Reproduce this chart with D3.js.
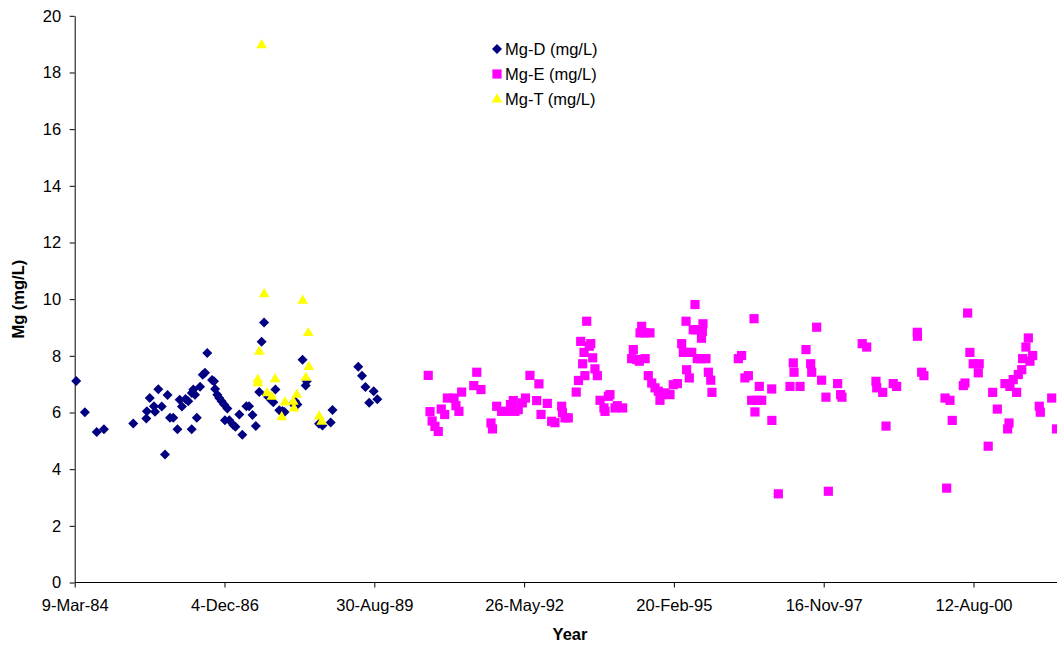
<!DOCTYPE html>
<html>
<head>
<meta charset="utf-8">
<script src="https://cdn.jsdelivr.net/npm/d3@7"></script>
<style>
  body { margin: 0; background: #fff; }
  svg { display: block; font-family: "Liberation Sans", Arial, sans-serif; }
</style>
</head>
<body>
<svg id="chart" width="1057" height="646"></svg>
<script>
// ---------- DATA ----------
const xTickLabels = ["9-Mar-84", "4-Dec-86", "30-Aug-89", "26-May-92", "20-Feb-95", "16-Nov-97", "12-Aug-00"];
const yTickValues = [0, 2, 4, 6, 8, 10, 12, 14, 16, 18, 20];
const seriesNames = ["Mg-D (mg/L)", "Mg-E (mg/L)", "Mg-T (mg/L)"];
const xTitle = "Year";
const yTitle = "Mg (mg/L)";

const mgDDates = [
  "1984-03-19","1984-05-16","1984-08-03","1984-09-20","1985-04-04","1985-06-30","1985-07-04","1985-07-23",
  "1985-08-20","1985-08-27","1985-09-18","1985-10-11","1985-11-02","1985-11-19","1985-12-05","1985-12-27",
  "1986-01-24","1986-02-08","1986-02-23","1986-03-19","1986-04-06","1986-04-29","1986-04-30","1986-05-10",
  "1986-05-21","1986-06-02","1986-06-24","1986-07-12","1986-07-27","1986-08-11","1986-09-12","1986-09-25",
  "1986-10-02","1986-10-17","1986-10-30","1986-11-15","1986-12-01","1986-12-07","1986-12-23","1987-01-05",
  "1987-02-01","1987-02-15","1987-03-13","1987-04-02","1987-04-29","1987-05-17","1987-06-09","1987-07-01",
  "1987-07-24","1987-08-09","1987-08-25","1987-09-12","1987-09-22","1987-10-10","1987-10-26","1987-11-09",
  "1987-12-05","1987-12-26","1988-01-09","1988-03-03","1988-03-19","1988-04-04","1988-05-08","1988-05-29",
  "1988-06-05","1988-08-26","1988-09-18","1988-11-12","1988-11-24","1989-05-15","1989-06-09","1989-07-02",
  "1989-07-27","1989-08-26","1989-09-19"
];
const mgDValues = [
  7.11, 6.01, 5.31, 5.41, 5.61, 5.79, 6.04, 6.51,
  6.22, 6.03, 6.82, 6.21, 4.52, 6.62, 5.81, 5.81,
  5.41, 6.45, 6.21, 6.48, 6.40, 5.41, 6.69, 6.81,
  6.63, 5.81, 6.91, 7.33, 7.40, 8.10, 7.15, 7.10,
  6.83, 6.63, 6.51, 6.40, 6.28, 5.73, 6.14, 5.73,
  5.56, 5.50, 5.93, 5.21, 6.22, 6.22, 5.91, 5.52,
  6.72, 8.50, 9.18, 6.63, 6.55, 6.45, 6.36, 6.81,
  6.08, 6.05, 6.02, 6.31, 6.40, 6.28, 7.86, 6.95,
  7.10, 5.60, 5.54, 5.65, 6.09, 7.61, 7.30, 6.90,
  6.34, 6.75, 6.47
];

const mgEDates = [
  "1990-08-25","1990-09-06","1990-09-20","1990-10-09","1990-10-31","1990-11-20","1990-12-13","1990-12-31",
  "1991-02-13","1991-02-26","1991-03-18","1991-04-05","1991-06-25","1991-07-15","1991-08-12","1991-10-18",
  "1991-10-28","1991-11-25","1991-12-28","1992-01-31","1992-02-25","1992-03-15","1992-03-26","1992-04-17",
  "1992-05-14","1992-06-04","1992-07-04","1992-08-18","1992-09-02","1992-09-16","1992-10-28","1992-11-26",
  "1992-12-18","1993-02-01","1993-02-06","1993-02-23","1993-03-17","1993-05-09","1993-05-24","1993-06-08",
  "1993-06-21","1993-06-30","1993-07-06","1993-07-18","1993-08-04","1993-08-14","1993-08-27","1993-09-11",
  "1993-09-27","1993-10-15","1993-11-10","1993-11-17","1993-12-09","1993-12-20","1994-01-23","1994-02-07",
  "1994-03-15","1994-05-14","1994-05-25","1994-06-17","1994-07-04","1994-07-09","1994-07-20","1994-08-11",
  "1994-08-12","1994-09-02","1994-09-13","1994-09-25","1994-10-17","1994-11-08","1994-11-19","1994-11-30",
  "1994-12-22","1995-01-25","1995-02-16","1995-03-15","1995-04-13","1995-04-24","1995-05-12","1995-05-16",
  "1995-05-27","1995-06-03","1995-06-19","1995-06-29","1995-07-11","1995-07-17","1995-07-26","1995-08-18",
  "1995-08-23","1995-08-29","1995-09-02","1995-09-22","1995-10-08","1995-10-24","1995-11-01","1996-04-25",
  "1996-05-17","1996-06-08","1996-07-01","1996-07-23","1996-08-08","1996-08-14","1996-08-26","1996-09-12",
  "1996-09-28","1996-12-04","1996-12-05","1997-01-17","1997-04-05","1997-04-27","1997-05-02","1997-06-11",
  "1997-07-21","1997-08-21","1997-08-28","1997-09-30","1997-11-02","1997-12-01","1997-12-17","1998-02-17",
  "1998-03-09","1998-03-18","1998-07-31","1998-08-30","1998-10-31","1998-11-05","1998-12-15","1999-01-06",
  "1999-02-23","1999-03-18","1999-08-03","1999-08-04","1999-09-01","1999-09-16","2000-02-04","2000-02-15",
  "2000-03-08","2000-03-23","2000-06-05","2000-06-16","2000-07-04","2000-07-19","2000-08-10","2000-09-13",
  "2000-09-19","2000-11-18","2000-12-18","2001-01-18","2001-03-10","2001-03-28","2001-04-06","2001-04-12",
  "2001-05-04","2001-05-27","2001-06-07","2001-06-30","2001-07-06","2001-07-28","2001-08-13","2001-08-24",
  "2001-09-11","2001-10-25","2001-11-01","2002-01-16","2002-02-17"
];
const mgEValues = [
  7.31, 6.03, 5.70, 5.51, 5.33, 6.12, 5.93, 6.51,
  6.51, 6.24, 6.04, 6.72, 6.95, 7.42, 6.81, 5.63,
  5.42, 6.22, 6.04, 6.04, 6.28, 6.42, 6.04, 6.10,
  6.34, 6.51, 7.31, 6.42, 7.01, 5.93, 6.32, 5.69,
  5.64, 6.22, 5.99, 5.81, 5.81, 6.72, 7.13, 8.51,
  7.72, 8.12, 7.30, 9.22, 8.34, 8.43, 7.93, 7.54,
  7.30, 6.43, 6.16, 6.04, 6.57, 6.63, 6.16, 6.24,
  6.16, 7.90, 8.22, 7.87, 7.81, 8.81, 9.04, 8.81,
  7.90, 7.30, 8.81, 7.04, 6.87, 6.75, 6.43, 6.63,
  6.69, 6.63, 6.98, 7.02, 8.43, 8.12, 9.22, 7.51,
  8.12, 7.22, 8.12, 8.92, 9.81, 8.92, 7.90, 7.90,
  8.62, 8.86, 9.13, 7.90, 7.42, 7.14, 6.71, 7.90,
  8.01, 7.22, 7.30, 6.43, 9.31, 6.02, 6.43, 6.92,
  6.43, 6.83, 5.72, 3.13, 6.92, 7.75, 7.42, 6.92,
  8.22, 7.72, 7.42, 9.01, 7.14, 6.54, 3.22, 7.02,
  6.63, 6.54, 8.43, 8.31, 7.10, 6.87, 6.71, 5.52,
  7.02, 6.92, 8.83, 8.69, 7.42, 7.30, 6.51, 3.33,
  6.43, 5.72, 6.95, 7.04, 9.51, 8.12, 7.72, 7.40,
  7.72, 4.81, 6.71, 6.12, 7.02, 5.42, 5.63, 6.92,
  7.16, 6.71, 7.34, 7.51, 7.90, 8.31, 8.63, 7.81,
  8.01, 6.22, 6.01, 6.51, 5.42
];

const mgTDates = [
  "1987-07-14","1987-07-15","1987-07-24","1987-08-09","1987-08-26","1987-09-15","1987-10-16","1987-11-07",
  "1987-12-21","1988-01-12","1988-03-07","1988-03-12","1988-03-30","1988-05-09","1988-05-30","1988-06-15",
  "1988-06-19","1988-08-27","1988-09-13"
];
const mgTValues = [
  7.17, 7.05, 8.16, 18.98, 10.19, 6.70, 6.57, 7.19,
  5.85, 6.37, 6.40, 6.16, 6.64, 9.96, 7.24, 8.82,
  7.62, 5.88, 5.69
];

const seriesColors = ["#000080", "#FF00FF", "#FFFF00"];

// ---------- CHART ----------
const W = 1057, H = 646;
const svg = d3.select("#chart");
const parseISO = d3.utcParse("%Y-%m-%d");
const parseTick = d3.utcParse("%d-%b-%y");
const tickDates = xTickLabels.map(parseTick);

const plot = { left: 74.7, right: W, top: 15.8, bottom: 582.5 };

const x = d3.scaleUtc()
  .domain([tickDates[0], tickDates[tickDates.length - 1]])
  .range([plot.left, 973.5]);
const y = d3.scaleLinear().domain([0, 20]).range([plot.bottom, plot.top]);

const fontSize = 16.5;

// Y axis
const yAxis = svg.append("g")
  .attr("transform", `translate(${plot.left},0)`)
  .call(d3.axisLeft(y).tickValues(yTickValues).tickSize(5).tickSizeOuter(0).tickPadding(8.5));
yAxis.select(".domain").attr("stroke", "#000");
yAxis.selectAll(".tick line").attr("stroke", "#000");
yAxis.selectAll(".tick text").attr("fill", "#000").style("font-size", fontSize + "px")
  .style("font-family", '"Liberation Sans", Arial, sans-serif');

// X axis
const xAxis = svg.append("g")
  .attr("transform", `translate(0,${plot.bottom})`)
  .call(d3.axisBottom(x).tickValues(tickDates).tickSize(5).tickSizeOuter(0).tickPadding(12)
    .tickFormat((d, i) => xTickLabels[i]));
xAxis.select(".domain").remove();
xAxis.append("line")
  .attr("x1", plot.left).attr("x2", plot.right)
  .attr("y1", 0).attr("y2", 0)
  .attr("stroke", "#000").attr("shape-rendering", "crispEdges");
xAxis.selectAll(".tick line").attr("stroke", "#000");
xAxis.selectAll(".tick text").attr("fill", "#000").style("font-size", fontSize + "px")
  .style("font-family", '"Liberation Sans", Arial, sans-serif');

// Titles
svg.append("text")
  .attr("transform", `translate(24,${(plot.top + plot.bottom) / 2}) rotate(-90)`)
  .attr("text-anchor", "middle")
  .style("font-size", "16.5px").style("font-weight", "bold")
  .text(yTitle);
svg.append("text")
  .attr("x", 570).attr("y", 640)
  .attr("text-anchor", "middle")
  .style("font-size", "16.5px").style("font-weight", "bold")
  .text(xTitle);

// Marker path generators (relative to centre)
function markerPath(kind) {
  if (kind === 0) { const r = 5; return `M0,${-r}L${r},0L0,${r}L${-r},0Z`; }
  if (kind === 1) { const s = 4.6; return `M${-s},${-s}H${s}V${s}H${-s}Z`; }
  const w = 5.4, h = 9.2; return `M0,${-h * 0.62}L${w},${h * 0.38}L${-w},${h * 0.38}Z`;
}

const series = [
  { dates: mgDDates, values: mgDValues },
  { dates: mgEDates, values: mgEValues },
  { dates: mgTDates, values: mgTValues }
];

series.forEach((s, k) => {
  const pts = s.dates.map((d, i) => ({ date: parseISO(d), value: s.values[i] }));
  svg.append("g").selectAll("path")
    .data(pts)
    .join("path")
    .attr("transform", d => `translate(${x(d.date)},${y(d.value)})`)
    .attr("d", markerPath(k))
    .attr("fill", seriesColors[k])
    .attr("stroke", "none");
});

// Legend
const legend = svg.append("g").attr("transform", "translate(497,0)");
const legendRowY = [49, 74, 99];
seriesNames.forEach((name, k) => {
  legend.append("path")
    .attr("transform", `translate(0,${legendRowY[k]})`)
    .attr("d", markerPath(k))
    .attr("fill", seriesColors[k]);
  legend.append("text")
    .attr("x", 8).attr("y", legendRowY[k] + 6)
    .style("font-size", fontSize + "px")
    .text(name);
});
</script>
</body>
</html>
